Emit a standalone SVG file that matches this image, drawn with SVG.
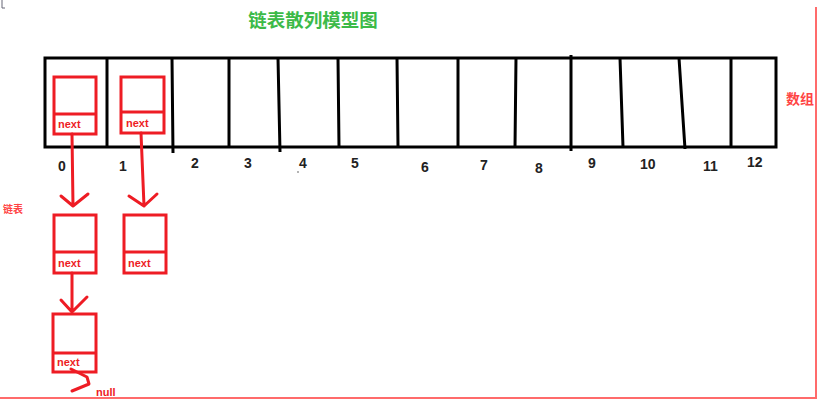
<svg xmlns="http://www.w3.org/2000/svg" width="827" height="405" viewBox="0 0 827 405">
<defs>
<style>
.arr{fill:none;stroke:#000;stroke-width:3;stroke-linecap:square}
.dv{fill:none;stroke:#000;stroke-width:3}
.idx{font-family:"Liberation Sans",Arial,sans-serif;font-size:14px;font-weight:bold;fill:#222}
.nd{fill:none;stroke:#ee1c24;stroke-width:3}
.nx{font-family:"Liberation Sans",Arial,sans-serif;font-size:11px;font-weight:bold;fill:#ee1c24}
.ln{fill:none;stroke:#ee1c24;stroke-width:3;stroke-linecap:round;stroke-linejoin:round}
.rl{font-family:"Noto Sans CJK SC",sans-serif;font-weight:bold;fill:#ff4444}
.bd{fill:none;stroke:#ff6b6b;stroke-width:2}
</style>
</defs>
<rect width="827" height="405" fill="#fff"/>
<path d="M2,0 V8 H5" fill="none" stroke="#667" stroke-width="1"/>
<path class="bd" d="M816,7 V398 H0"/>
<text x="313" y="27" text-anchor="middle" font-family="Noto Sans CJK SC,sans-serif" font-size="18.5" font-weight="bold" fill="#3cba48">链表散列模型图</text>
<g id="array">
<rect class="arr" x="45" y="58" width="731" height="89"/>
<path class="dv" d="M107,58 L107,147 M172,58 L173,153 M229,58 L229,147 M278,58 L280,152 M338,58 L339,147 M397,58 L398,147 M458,58 L458,147 M516,58 L515,147 M571,55 L571,151 M620,58 L623,147 M679,58 L685,149 M731,58 L731,147"/>
<text class="idx" x="58" y="171">0</text>
<text class="idx" x="119" y="171">1</text>
<text class="idx" x="191" y="168">2</text>
<text class="idx" x="244" y="168">3</text>
<text class="idx" x="299" y="168">4</text>
<circle cx="298" cy="172" r="0.8" fill="#555"/>
<text class="idx" x="351" y="168">5</text>
<text class="idx" x="421" y="172">6</text>
<text class="idx" x="480" y="170">7</text>
<text class="idx" x="535" y="173">8</text>
<text class="idx" x="588" y="168">9</text>
<text class="idx" x="640" y="169">10</text>
<text class="idx" x="703" y="171">11</text>
<text class="idx" x="747" y="167">12</text>
</g>
<text class="rl" x="786" y="104" font-size="14">数组</text>
<text class="rl" x="3" y="213" font-size="10">链表</text>
<g id="nodeA">
<rect class="nd" x="54" y="77" width="42" height="57"/>
<path class="nd" d="M54,114 H96"/>
<text class="nx" x="58" y="128">next</text>
</g>
<g id="nodeB">
<rect class="nd" x="121" y="77" width="43" height="56"/>
<path class="nd" d="M121,112 H164"/>
<text class="nx" x="126" y="127">next</text>
</g>
<g id="nodeC">
<rect class="nd" x="54" y="215" width="42" height="58"/>
<path class="nd" d="M54,252 H96"/>
<text class="nx" x="58" y="267">next</text>
</g>
<g id="nodeD">
<rect class="nd" x="124" y="215" width="42" height="58"/>
<path class="nd" d="M124,252 H166"/>
<text class="nx" x="128" y="267">next</text>
</g>
<g id="nodeE">
<rect class="nd" x="53" y="314" width="43" height="58"/>
<path class="nd" d="M53,353 H96"/>
<text class="nx" x="57" y="366">next</text>
</g>
<text class="nx" x="96" y="396">null</text>
<g id="connectors">
<path class="ln" d="M72,134 L73,206 M61,196 L73,206 L88,194"/>
<path class="ln" d="M141,133 L144,206 M129,196 L144,206 L157,194"/>
<path class="ln" d="M72,273 V312 M61,300 L72,312 L87,297"/>
<path class="ln" d="M71,369 L87,377 L89,384 L72,391"/>
</g>
</svg>
